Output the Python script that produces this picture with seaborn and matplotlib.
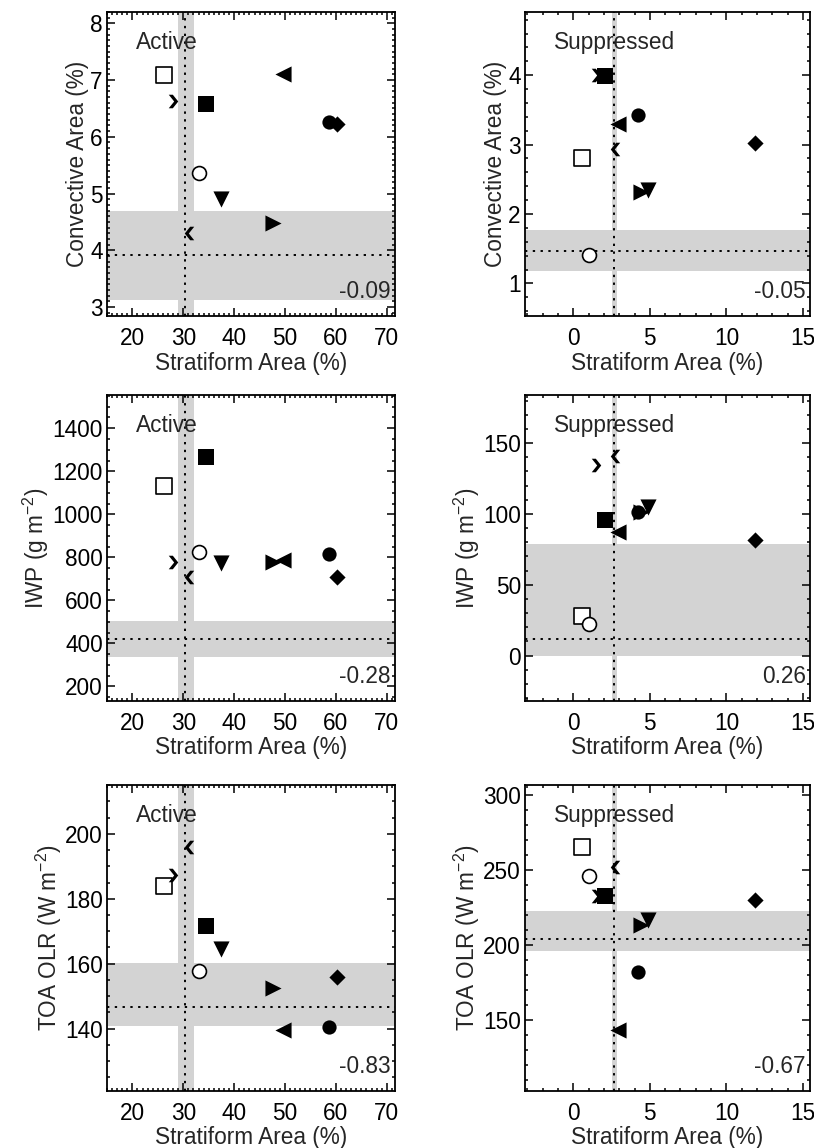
import matplotlib
matplotlib.use("Agg")
import matplotlib.pyplot as plt
import pandas as pd
import seaborn as sns
from matplotlib.ticker import MultipleLocator

# ten simulations, one symbol each
models = [
    "open_square", "open_circle", "filled_square", "filled_circle", "diamond",
    "tri_left", "tri_right", "tri_down", "chev_right", "chev_left",
]

strat_active = [26.2, 33.1, 34.4, 58.7, 60.2, 49.5, 47.6, 37.5, 27.9, 31.1]
strat_suppr = [0.6, 1.0, 2.05, 4.25, 11.85, 2.95, 4.45, 4.9, 1.5, 2.7]

conv_active = [7.09, 5.36, 6.58, 6.27, 6.22, 7.10, 4.48, 4.91, 6.63, 4.31]
conv_suppr = [2.81, 1.41, 3.99, 3.42, 3.03, 3.30, 2.32, 2.35, 4.01, 2.94]

iwp_active = [1131, 825, 1268, 815, 709, 787, 779, 774, 779, 709]
iwp_suppr = [28, 22, 96, 101.6, 81.5, 87.4, 101.6, 105, 134.6, 141]

olr_active = [183.9, 157.7, 171.7, 140.5, 156.0, 139.7, 152.6, 164.4, 187.3, 196.1]
olr_suppr = [265.6, 246.0, 232.7, 182.2, 230.4, 143.8, 213.3, 217.1, 232.7, 252.2]

# observations: mean, low, high
obs_strat_active = (30.4, 29.0, 32.1)
obs_strat_suppr = (2.67, 2.54, 2.85)
obs_conv_active = (3.91, 3.13, 4.69)
obs_conv_suppr = (1.47, 1.18, 1.77)
obs_iwp_active = (422, 336, 504)
obs_iwp_suppr = (11.6, 0, 79)
obs_olr_active = (146.7, 140.8, 160.1)
obs_olr_suppr = (204.4, 196.2, 222.7)

corr = {
    ("conv", "active"): "-0.09", ("conv", "suppr"): "-0.05",
    ("iwp", "active"): "-0.28", ("iwp", "suppr"): "0.26",
    ("olr", "active"): "-0.83", ("olr", "suppr"): "-0.67",
}

sns.set_style("ticks")
plt.rcParams["font.family"] = ["Liberation Sans", "DejaVu Sans"]
plt.rcParams["mathtext.fontset"] = "custom"
plt.rcParams["mathtext.rm"] = "Liberation Sans"
plt.rcParams["mathtext.it"] = "Liberation Sans"

FS = 16.3

# bold chevrons, drawn as filled polygons
chev_right = [(-0.7, 1.0), (-0.1, 1.0), (0.7, 0.0), (-0.1, -1.0), (-0.7, -1.0), (0.1, 0.0)]
chev_left = [(-x, y) for x, y in chev_right]

marker_style = {
    "open_square": ("s", 125, "white"),
    "open_circle": ("o", 100, "white"),
    "filled_square": ("s", 125, "black"),
    "filled_circle": ("o", 105, "black"),
    "diamond": ("D", 68, "black"),
    "tri_left": ("<", 135, "black"),
    "tri_right": (">", 135, "black"),
    "tri_down": ("v", 135, "black"),
    "chev_right": (chev_right, 95, "black"),
    "chev_left": (chev_left, 95, "black"),
}

fig = plt.figure(figsize=(8.14, 11.48), dpi=100)
rows = [("conv", 0.7247, 0.2648), ("iwp", 0.3894, 0.2666), ("olr", 0.0497, 0.2666)]
cols = [("active", 0.1314, 0.3538), ("suppr", 0.645, 0.350)]

yvals = {
    ("conv", "active"): conv_active, ("conv", "suppr"): conv_suppr,
    ("iwp", "active"): iwp_active, ("iwp", "suppr"): iwp_suppr,
    ("olr", "active"): olr_active, ("olr", "suppr"): olr_suppr,
}
yobs = {
    ("conv", "active"): obs_conv_active, ("conv", "suppr"): obs_conv_suppr,
    ("iwp", "active"): obs_iwp_active, ("iwp", "suppr"): obs_iwp_suppr,
    ("olr", "active"): obs_olr_active, ("olr", "suppr"): obs_olr_suppr,
}
ylims = {
    ("conv", "active"): (2.84, 8.2), ("conv", "suppr"): (0.53, 4.91),
    ("iwp", "active"): (132, 1555), ("iwp", "suppr"): (-32, 184),
    ("olr", "active"): (120.8, 215.1), ("olr", "suppr"): (103, 306.7),
}
yticks = {
    ("conv", "active"): (1, 0.1), ("conv", "suppr"): (1, 0.2),
    ("iwp", "active"): (200, 50), ("iwp", "suppr"): (50, 10),
    ("olr", "active"): (20, 5), ("olr", "suppr"): (50, 10),
}
ylabels = {
    "conv": "Convective Area (%)",
    "iwp": "IWP (g m$^{-2}$)",
    "olr": "TOA OLR (W m$^{-2}$)",
}
titles = {"active": "Active", "suppr": "Suppressed"}

for var, bottom, height in rows:
    for regime, left, width in cols:
        ax = fig.add_axes([left, bottom, width, height])
        key = (var, regime)
        xs = strat_active if regime == "active" else strat_suppr
        xo = obs_strat_active if regime == "active" else obs_strat_suppr
        yo = yobs[key]

        ax.axhspan(yo[1], yo[2], color="#d3d3d3", lw=0, zorder=0)
        ax.axvspan(xo[1], xo[2], color="#d3d3d3", lw=0, zorder=0)
        ax.axhline(yo[0], color="black", ls=(0, (1.2, 2.8)), lw=1.4, zorder=1)
        ax.axvline(xo[0], color="black", ls=(0, (1.2, 2.8)), lw=1.4, zorder=1)

        df = pd.DataFrame({"model": models, "x": xs, "y": yvals[key]})
        for _, row in df.iterrows():
            mk, size, face = marker_style[row["model"]]
            sns.scatterplot(
                x=[row["x"]], y=[row["y"]], ax=ax, marker=mk, s=size,
                color=face, edgecolor="black", linewidth=1.2 if face == "white" else 0,
                zorder=3, legend=False,
            )

        if regime == "active":
            ax.set_xlim(15, 71.6)
            ax.xaxis.set_major_locator(MultipleLocator(10))
            ax.xaxis.set_minor_locator(MultipleLocator(1))
        else:
            ax.set_xlim(-3.15, 15.45)
            ax.xaxis.set_major_locator(MultipleLocator(5))
            ax.xaxis.set_minor_locator(MultipleLocator(1))
        ax.set_ylim(*ylims[key])
        ax.yaxis.set_major_locator(MultipleLocator(yticks[key][0]))
        ax.yaxis.set_minor_locator(MultipleLocator(yticks[key][1]))

        ax.tick_params(which="both", direction="in", top=True, right=True, width=1.1, colors="black")
        ax.tick_params(which="major", length=6, labelsize=FS)
        ax.tick_params(which="minor", length=2.5)
        ax.tick_params(axis="x", which="major", pad=8)
        ax.tick_params(axis="y", which="major", pad=3)
        for sp in ax.spines.values():
            sp.set_linewidth(1.3)
            sp.set_color("black")

        ax.set_xlabel("Stratiform Area (%)", fontsize=FS, labelpad=1)
        ax.set_ylabel(ylabels[var], fontsize=FS, labelpad=1)
        ax.text(0.10, 0.90, titles[regime], transform=ax.transAxes, fontsize=FS,
                ha="left", va="center")
        ax.text(0.985, 0.08, corr[key], transform=ax.transAxes, fontsize=FS,
                ha="right", va="center")

fig.savefig("out.png", dpi=100)
